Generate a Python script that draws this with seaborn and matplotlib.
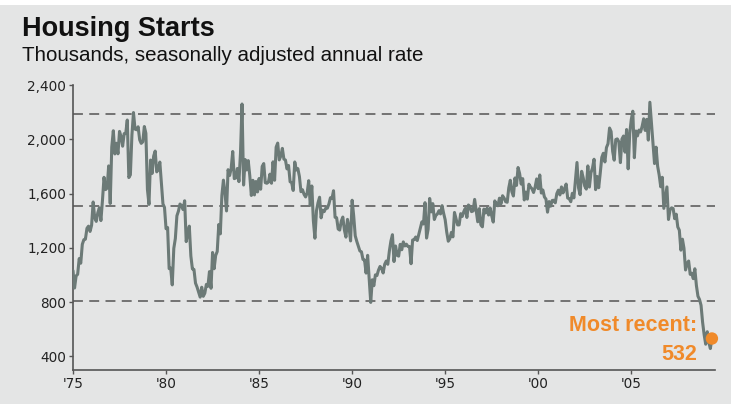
import numpy as np
import pandas as pd
import matplotlib
matplotlib.use("Agg")
import matplotlib.pyplot as plt
import seaborn as sns
from matplotlib.patches import Rectangle

# Monthly housing starts, thousands of units, SAAR (Jan 1975 - May 2009)
starts = [
    # 1975
    1032, 904, 993, 1005, 1121, 1087, 1226, 1260, 1264, 1344, 1360, 1321,
    # 1976
    1367, 1538, 1421, 1395, 1459, 1495, 1401, 1550, 1720, 1629, 1641, 1804,
    # 1977
    1527, 1943, 2063, 1892, 1971, 1893, 2058, 2020, 1949, 2042, 2042, 2142,
    # 1978
    1718, 1738, 2032, 2197, 2075, 2070, 2092, 1996, 1970, 1981, 2094, 2044,
    # 1979
    1630, 1520, 1847, 1748, 1876, 1913, 1760, 1778, 1832, 1681, 1524, 1498,
    # 1980
    1341, 1350, 1047, 1051, 927, 1196, 1269, 1436, 1471, 1523, 1510, 1482,
    # 1981
    1547, 1246, 1306, 1360, 1140, 1045, 1041, 940, 911, 873, 837, 910,
    # 1982
    843, 866, 931, 917, 1025, 902, 1166, 1046, 1144, 1173, 1372, 1303,
    # 1983
    1586, 1699, 1606, 1472, 1776, 1733, 1785, 1910, 1710, 1715, 1785, 1688,
    # 1984
    1897, 2260, 1663, 1851, 1774, 1843, 1732, 1586, 1698, 1590, 1689, 1612,
    # 1985
    1711, 1632, 1800, 1821, 1680, 1676, 1684, 1743, 1676, 1834, 1698, 1942,
    # 1986
    1972, 1848, 1876, 1933, 1854, 1847, 1782, 1807, 1687, 1681, 1623, 1833,
    # 1987
    1774, 1784, 1726, 1614, 1628, 1594, 1575, 1605, 1695, 1515, 1656, 1400,
    # 1988
    1271, 1473, 1532, 1573, 1421, 1478, 1467, 1493, 1492, 1522, 1569, 1563,
    # 1989
    1621, 1425, 1422, 1339, 1331, 1397, 1427, 1332, 1279, 1410, 1351, 1251,
    # 1990
    1551, 1437, 1289, 1248, 1212, 1177, 1171, 1115, 1110, 1014, 1145, 969,
    # 1991
    798, 965, 921, 1001, 996, 1036, 1063, 1049, 1015, 1079, 1103, 1079,
    # 1992
    1176, 1250, 1297, 1099, 1214, 1145, 1139, 1226, 1186, 1244, 1214, 1227,
    # 1993
    1210, 1210, 1083, 1258, 1260, 1280, 1254, 1300, 1343, 1392, 1376, 1533,
    # 1994
    1272, 1337, 1564, 1465, 1526, 1409, 1439, 1450, 1474, 1450, 1511, 1455,
    # 1995
    1407, 1316, 1249, 1267, 1314, 1281, 1461, 1416, 1369, 1369, 1452, 1431,
    # 1996
    1467, 1491, 1424, 1516, 1504, 1467, 1472, 1557, 1475, 1392, 1489, 1370,
    # 1997
    1355, 1486, 1457, 1492, 1442, 1494, 1437, 1390, 1546, 1520, 1510, 1566,
    # 1998
    1525, 1584, 1567, 1540, 1536, 1641, 1698, 1614, 1582, 1715, 1660, 1792,
    # 1999
    1748, 1670, 1710, 1553, 1611, 1559, 1669, 1648, 1635, 1608, 1648, 1708,
    # 2000
    1636, 1737, 1604, 1626, 1575, 1559, 1463, 1541, 1507, 1549, 1551, 1532,
    # 2001
    1600, 1625, 1590, 1649, 1605, 1636, 1670, 1567, 1562, 1540, 1602, 1568,
    # 2002
    1698, 1829, 1642, 1592, 1764, 1717, 1655, 1633, 1804, 1648, 1753, 1788,
    # 2003
    1853, 1629, 1726, 1643, 1751, 1867, 1897, 1833, 1939, 1967, 2083, 2057,
    # 2004
    1911, 1846, 1998, 2003, 1981, 1828, 2002, 2024, 1905, 2072, 1782, 2042,
    # 2005
    2144, 2207, 1864, 2061, 2025, 2068, 2054, 2095, 2151, 2065, 2147, 1994,
    # 2006
    2273, 2119, 1969, 1821, 1942, 1802, 1737, 1650, 1720, 1491, 1570, 1649,
    # 2007
    1409, 1480, 1495, 1490, 1415, 1448, 1354, 1330, 1183, 1264, 1197, 1037,
    # 2008
    1084, 1103, 1005, 1013, 973, 1046, 923, 844, 820, 777, 652, 560,
    # 2009
    490, 582, 505, 458, 532,
]
first_year = 1975

# Long-run average and +/- one standard deviation bands
band_levels = [2190, 1510, 810]

y_ticks = [400, 800, 1200, 1600, 2000, 2400]
x_ticks = [1975, 1980, 1985, 1990, 1995, 2000, 2005]
x_tick_labels = ["'75", "'80", "'85", "'90", "'95", "'00", "'05"]

latest_value = 532

df = pd.DataFrame({
    "year": first_year + np.arange(len(starts)) / 12.0,
    "starts": starts,
})

sns.set_theme(style="white")
plt.rcParams["font.family"] = ["Liberation Sans", "DejaVu Sans"]

panel = "#e4e5e5"
line_col = "#6c7a77"
orange = "#f08a2a"
dark = "#222222"

fig = plt.figure(figsize=(7.35, 4.04), dpi=100, facecolor="white")
fig.patches.append(Rectangle((0.0, 0.0), 0.994, 0.987, transform=fig.transFigure,
                             facecolor=panel, edgecolor="none", zorder=-10))
ax = fig.add_axes([73 / 735, 1 - 370 / 404, (715 - 73) / 735, (370 - 85) / 404])
ax.set_facecolor(panel)

for lvl in band_levels:
    ax.axhline(lvl, color="#6a6a6a", lw=1.3, ls=(0, (5.5, 3.5)), zorder=1)

sns.lineplot(data=df, x="year", y="starts", ax=ax, color=line_col,
             linewidth=2.2, zorder=3)

last_x = df["year"].iloc[-1]
ax.scatter([last_x], [latest_value], s=80, color=orange, zorder=4,
           edgecolors="none", clip_on=False)
ax.text(last_x - 0.8, 628, "Most recent:", color=orange, fontsize=15.5,
        fontweight="bold", ha="right", va="center")
ax.text(last_x - 0.8, 415, f"{latest_value}", color=orange, fontsize=15.5,
        fontweight="bold", ha="right", va="center")

ax.set_xlim(1975, 2009.5)
ax.set_ylim(300, 2400)
ax.set_xticks(x_ticks)
ax.set_xticklabels(x_tick_labels)
ax.set_yticks(y_ticks)
ax.set_yticklabels([f"{v:,}" for v in y_ticks])
ax.set_xlabel("")
ax.set_ylabel("")

for side in ("top", "right"):
    ax.spines[side].set_visible(False)
for side in ("left", "bottom"):
    ax.spines[side].set_color("#555555")
    ax.spines[side].set_linewidth(1.2)

ax.tick_params(axis="both", which="major", direction="out", length=3, width=1,
               color="#555555", labelcolor=dark, pad=2, left=True, bottom=True)
for lab in ax.get_xticklabels() + ax.get_yticklabels():
    lab.set_fontfamily(["DejaVu Sans"])
    lab.set_fontsize(9.8)

fig.text(22 / 735, 1 - 36 / 404, "Housing Starts", fontsize=19.5, fontweight="bold",
         color="#111111", ha="left", va="baseline")
fig.text(22 / 735, 1 - 61 / 404, "Thousands, seasonally adjusted annual rate",
         fontsize=14.8, color="#111111", ha="left", va="baseline")

fig.savefig("out.png", dpi=100, facecolor="white")
